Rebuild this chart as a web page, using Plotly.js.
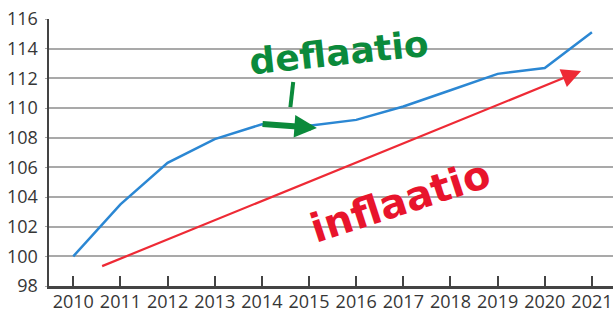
<!DOCTYPE html>
<html>
<head>
<meta charset="utf-8">
<script src="https://cdn.plot.ly/plotly-3.0.1.min.js"></script>
<style>
html,body{margin:0;padding:0;background:#fff;}
#chart{width:613px;height:312px;}
</style>
</head>
<body>
<div id="chart"></div>
<script>
// Data
var years = [2010, 2011, 2012, 2013, 2014, 2015, 2016, 2017, 2018, 2019, 2020, 2021];
var indexValues = [100, 103.5, 106.3, 107.9, 108.9, 108.8, 109.2, 110.1, 111.2, 112.3, 112.7, 115.1];
var yTicks = [98, 100, 102, 104, 106, 108, 110, 112, 114, 116];
var inflationArrowStart = [2010.58, 99.3];
var inflationArrowEnd = [2020.77, 112.5];
var deflationLabel = 'deflaatio';
var inflationLabel = 'inflaatio';

var trace = {
  x: years,
  y: indexValues,
  type: 'scatter',
  mode: 'lines',
  line: {color: '#2b87d3', width: 2.5},
  hoverinfo: 'skip'
};

var green = '#0b8a3b';
var red = '#e8142c';
var tickFont = {family: 'Open Sans, sans-serif', size: 18, color: '#363636'};

var layout = {
  width: 613,
  height: 312,
  margin: {l: 49, r: 0, t: 19, b: 26, pad: 0},
  paper_bgcolor: '#ffffff',
  plot_bgcolor: '#ffffff',
  showlegend: false,
  font: tickFont,
  xaxis: {
    range: [2009.485, 2021.447],
    tickvals: years,
    ticktext: years.map(String),
    showgrid: false,
    zeroline: false,
    showline: true,
    linecolor: '#444444',
    linewidth: 2.5,
    ticks: 'inside',
    ticklen: 10,
    tickwidth: 2,
    tickcolor: '#444444',
    ticklabelstandoff: -2,
    tickfont: tickFont,
    fixedrange: true
  },
  yaxis: {
    range: [98, 116],
    tickvals: yTicks,
    ticktext: yTicks.map(String),
    showgrid: true,
    gridcolor: '#a9a9a9',
    gridwidth: 2,
    zeroline: false,
    showline: true,
    linecolor: '#444444',
    linewidth: 2.5,
    ticks: 'outside',
    ticklen: 2,
    tickcolor: '#a9a9a9',
    ticklabelstandoff: 3,
    tickfont: tickFont,
    fixedrange: true
  },
  annotations: [
    {
      x: inflationArrowEnd[0], y: inflationArrowEnd[1],
      ax: inflationArrowStart[0], ay: inflationArrowStart[1],
      xref: 'x', yref: 'y', axref: 'x', ayref: 'y',
      text: '', showarrow: true,
      arrowhead: 2, arrowsize: 1.75, arrowwidth: 2.2, arrowcolor: '#ee2a35',
      standoff: 0, startstandoff: 0
    },
    {
      x: 0.515, y: 0.874, xref: 'paper', yref: 'paper',
      xanchor: 'center', yanchor: 'middle',
      text: deflationLabel, showarrow: false,
      textangle: -6,
      font: {family: 'DejaVu Sans, sans-serif', size: 36, color: green, weight: 'bold'}
    },
    {
      x: 0.622, y: 0.32, xref: 'paper', yref: 'paper',
      xanchor: 'center', yanchor: 'middle',
      text: inflationLabel, showarrow: false,
      textangle: -18,
      font: {family: 'DejaVu Sans, sans-serif', size: 40, color: red, weight: 'bold'}
    },
    {
      x: 0.475, y: 0.592, ax: 0.376, ay: 0.607,
      xref: 'paper', yref: 'paper', axref: 'paper', ayref: 'paper',
      text: '', showarrow: true,
      arrowhead: 2, arrowsize: 0.75, arrowwidth: 6, arrowcolor: green,
      standoff: 0, startstandoff: 0
    }
  ],
  shapes: [
    {
      type: 'line', xref: 'paper', yref: 'paper',
      x0: 0.433, y0: 0.764, x1: 0.428, y1: 0.670,
      line: {color: green, width: 4}
    }
  ]
};

Plotly.newPlot('chart', [trace], layout, {staticPlot: true, displayModeBar: false});
</script>
</body>
</html>
